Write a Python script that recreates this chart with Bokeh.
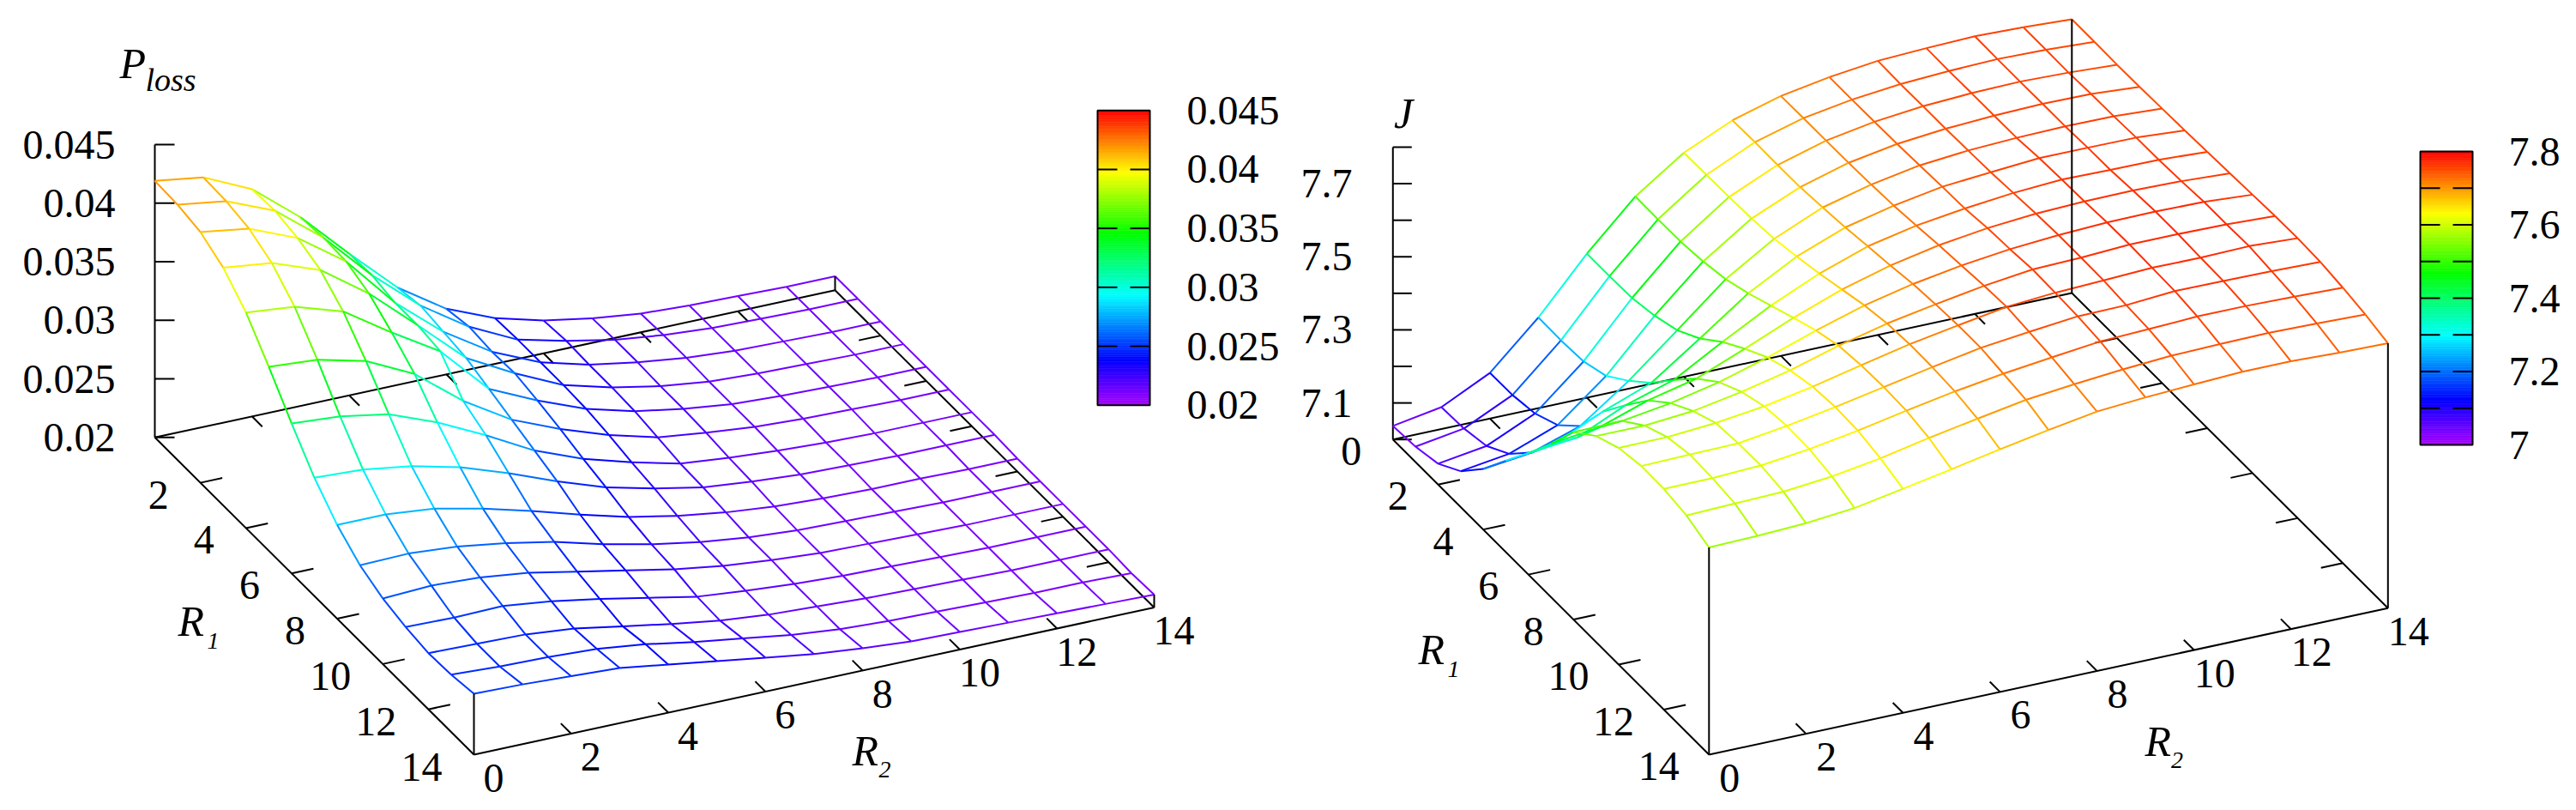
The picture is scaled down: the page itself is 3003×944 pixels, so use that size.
from bokeh.plotting import figure
from bokeh.layouts import row
from bokeh.embed import file_html
from bokeh.resources import INLINE
from bokeh.core.properties import value

R_VALUES = list(range(15))

# ---- P_loss surface: one list per R1, along R2 = 0..14
PLOSS_R1_00 = [.0419,.0413,.0394,.0361,.0321,.0283,.0256,.0239,.0228,.0221,.0216,.0214,.0213,.0212,.0212]
PLOSS_R1_01 = [.0418,.0412,.0395,.0363,.0322,.0287,.0260,.0240,.0230,.0222,.0217,.0214,.0213,.0212,.0212]
PLOSS_R1_02 = [.0414,.0408,.0391,.0362,.0318,.0284,.0258,.0240,.0229,.0222,.0217,.0214,.0213,.0212,.0212]
PLOSS_R1_03 = [.0403,.0398,.0383,.0354,.0318,.0281,.0259,.0240,.0229,.0221,.0216,.0214,.0213,.0212,.0212]
PLOSS_R1_04 = [.0384,.0380,.0367,.0340,.0315,.0274,.0255,.0239,.0228,.0221,.0216,.0214,.0213,.0212,.0212]
PLOSS_R1_05 = [.0357,.0354,.0344,.0324,.0292,.0267,.0250,.0236,.0225,.0220,.0216,.0214,.0213,.0212,.0212]
PLOSS_R1_06 = [.0328,.0325,.0318,.0302,.0282,.0260,.0244,.0232,.0222,.0218,.0215,.0213,.0212,.0212,.0212]
PLOSS_R1_07 = [.0301,.0299,.0293,.0283,.0269,.0253,.0239,.0229,.0221,.0217,.0214,.0213,.0212,.0212,.0212]
PLOSS_R1_08 = [.0280,.0280,.0276,.0267,.0256,.0244,.0233,.0225,.0219,.0215,.0213,.0212,.0212,.0211,.0211]
PLOSS_R1_09 = [.0265,.0266,.0263,.0257,.0249,.0238,.0229,.0222,.0217,.0214,.0213,.0212,.0211,.0211,.0211]
PLOSS_R1_10 = [.0256,.0258,.0256,.0251,.0243,.0235,.0227,.0221,.0217,.0214,.0213,.0212,.0211,.0211,.0211]
PLOSS_R1_11 = [.0251,.0250,.0251,.0246,.0239,.0231,.0223,.0219,.0216,.0214,.0213,.0212,.0211,.0211,.0211]
PLOSS_R1_12 = [.0248,.0247,.0246,.0242,.0235,.0228,.0222,.0218,.0216,.0214,.0213,.0212,.0211,.0211,.0211]
PLOSS_R1_13 = [.0249,.0247,.0246,.0244,.0239,.0232,.0226,.0220,.0216,.0214,.0213,.0212,.0211,.0211,.0210]
PLOSS_R1_14 = [.0252,.0251,.0249,.0247,.0241,.0235,.0229,.0223,.0219,.0216,.0215,.0214,.0213,.0212,.0211]
PLOSS_ROWS = [PLOSS_R1_00, PLOSS_R1_01, PLOSS_R1_02, PLOSS_R1_03, PLOSS_R1_04, PLOSS_R1_05, PLOSS_R1_06, PLOSS_R1_07,
              PLOSS_R1_08, PLOSS_R1_09, PLOSS_R1_10, PLOSS_R1_11, PLOSS_R1_12, PLOSS_R1_13, PLOSS_R1_14]

# ---- J surface: one list per R2, along R1 = 0..14
J_R2_00 = [7.037,7.042,7.057,7.098,7.166,7.250,7.332,7.419,7.513,7.564,7.593,7.605,7.604,7.593,7.567]
J_R2_01 = [7.060,7.063,7.077,7.117,7.182,7.267,7.346,7.436,7.515,7.564,7.594,7.608,7.605,7.597,7.570]
J_R2_02 = [7.125,7.126,7.137,7.167,7.226,7.327,7.406,7.481,7.535,7.575,7.604,7.610,7.611,7.601,7.576]
J_R2_03 = [7.248,7.247,7.251,7.273,7.321,7.377,7.447,7.512,7.564,7.599,7.621,7.629,7.627,7.614,7.589]
J_R2_04 = [7.394,7.394,7.396,7.409,7.431,7.470,7.522,7.565,7.603,7.629,7.646,7.652,7.649,7.635,7.613]
J_R2_05 = [7.522,7.521,7.522,7.529,7.542,7.565,7.593,7.621,7.648,7.668,7.676,7.678,7.675,7.662,7.638]
J_R2_06 = [7.613,7.614,7.615,7.618,7.624,7.637,7.652,7.670,7.688,7.700,7.705,7.704,7.699,7.686,7.664]
J_R2_07 = [7.673,7.675,7.674,7.675,7.681,7.688,7.698,7.707,7.718,7.724,7.728,7.728,7.719,7.709,7.688]
J_R2_08 = [7.711,7.712,7.712,7.713,7.715,7.719,7.726,7.734,7.740,7.746,7.750,7.743,7.735,7.723,7.710]
J_R2_09 = [7.734,7.734,7.735,7.736,7.739,7.742,7.744,7.752,7.756,7.762,7.760,7.757,7.750,7.735,7.720]
J_R2_10 = [7.750,7.748,7.749,7.749,7.751,7.753,7.758,7.763,7.766,7.766,7.765,7.759,7.755,7.744,7.727]
J_R2_11 = [7.756,7.755,7.756,7.756,7.757,7.763,7.766,7.768,7.772,7.773,7.771,7.769,7.761,7.747,7.733]
J_R2_12 = [7.760,7.759,7.759,7.760,7.760,7.763,7.764,7.769,7.773,7.773,7.770,7.768,7.761,7.749,7.733]
J_R2_13 = [7.756,7.756,7.755,7.758,7.759,7.762,7.763,7.766,7.771,7.771,7.773,7.766,7.758,7.746,7.728]
J_R2_14 = [7.749,7.749,7.748,7.749,7.751,7.753,7.756,7.759,7.762,7.765,7.766,7.763,7.754,7.742,7.725]
J_COLS = [J_R2_00, J_R2_01, J_R2_02, J_R2_03, J_R2_04, J_R2_05, J_R2_06, J_R2_07,
          J_R2_08, J_R2_09, J_R2_10, J_R2_11, J_R2_12, J_R2_13, J_R2_14]
J_ROWS = [[col[i] for col in J_COLS] for i in range(15)]

R1_TICKS = [2, 4, 6, 8, 10, 12]
R2_TICKS = [2, 4, 6, 8, 10, 12]
AXIS_LABELS = ["0", "2", "4", "6", "8", "10", "12", "14"]
PLOSS_Z_TICKS = [0.02, 0.025, 0.03, 0.035, 0.04, 0.045]
PLOSS_Z_LABELS = ["0.02", "0.025", "0.03", "0.035", "0.04", "0.045"]
J_Z_TICKS = [7.0, 7.1, 7.2, 7.3, 7.4, 7.5, 7.6, 7.7, 7.8]
J_Z_LABELS = ["", "7.1", "", "7.3", "", "7.5", "", "7.7", ""]
J_CB_LABELS = ["7", "", "7.2", "", "7.4", "", "7.6", "", "7.8"]

# palette: fraction, colour
PAL_F = [0.0, 0.155, 0.374, 0.583, 0.79, 1.0]
PAL_C = [(170, 0, 255), (0, 0, 255), (0, 255, 255), (0, 255, 0), (255, 255, 0), (255, 0, 0)]

FONT = "Liberation Serif"
TICK_PT = "48px"
LW = 2.0


def pal(f):
    f = max(0.0, min(1.0, f))
    for k in range(len(PAL_F) - 1):
        if f <= PAL_F[k + 1]:
            u = (f - PAL_F[k]) / (PAL_F[k + 1] - PAL_F[k])
            c = [round(a + (b - a) * u) for a, b in zip(PAL_C[k], PAL_C[k + 1])]
            return "#%02x%02x%02x" % tuple(c)
    return "#ff0000"


def make_panel(cfg):
    x0, y0 = cfg["A"]
    bx, by = cfg["B"]
    cx, cy = cfg["C"]
    di = ((bx - x0) / 14, (by - y0) / 14)
    dj = ((cx - bx) / 14, (cy - by) / 14)
    zmin, zmax = cfg["zmin"], cfg["zmax"]
    zs = (y0 - cfg["ztop"]) / (zmax - zmin)

    def proj(i, j, z=None):
        z = zmin if z is None else z
        return x0 + i * di[0] + j * dj[0], y0 + i * di[1] + j * dj[1] - (z - zmin) * zs

    p = figure(width=cfg["w"], height=936, x_range=cfg["xr"], y_range=(936, 0),
               output_backend="svg", toolbar_location=None,
               x_axis_type=None, y_axis_type=None, min_border=0, outline_line_color=None)

    def segs(lst, color="black", lw=LW):
        p.segment([s[0][0] for s in lst], [s[0][1] for s in lst], [s[1][0] for s in lst], [s[1][1] for s in lst],
                  line_color=color, line_width=lw)

    def txt(x, y, s, size=TICK_PT, align="left", style="normal", center=True):
        yo = 0 if center else -0.338 * float(size[:-2])
        p.text([x], [y], text=[s], text_font=value(FONT), text_font_size=size, text_align=align,
               text_baseline="alphabetic", text_font_style=style, text_color="black", y_offset=yo)

    # base box + ticks
    A, B, C, D = proj(0, 0), proj(14, 0), proj(14, 14), proj(0, 14)
    box = [(A, B), (B, C), (C, D), (D, A)]
    tl = 0.45
    for v in R1_TICKS:
        box.append((proj(v, 0), proj(v, tl)))
        box.append((proj(v, 14), proj(v, 14 - tl)))
    for v in R2_TICKS:
        box.append((proj(14, v), proj(14 - tl, v)))
        box.append((proj(0, v), proj(tl, v)))
    segs(box)

    # z axis
    zaxis = [(proj(0, 0), proj(0, 0, zmax))]
    for z in cfg["zticks"]:
        px, py = proj(0, 0, z)
        zaxis.append(((px, py), (px + cfg["ztl"], py)))
    segs(zaxis)

    # surface
    Z = cfg["Z"]
    xs0, ys0, xs1, ys1, cols = [], [], [], [], []
    for i in R_VALUES:
        for j in R_VALUES:
            if j < 14:
                a, b = proj(i, j, Z[i][j]), proj(i, j + 1, Z[i][j + 1])
                xs0.append(a[0]); ys0.append(a[1]); xs1.append(b[0]); ys1.append(b[1])
                cols.append(pal(((Z[i][j] + Z[i][j + 1]) / 2 - zmin) / (zmax - zmin)))
            if i < 14:
                a, b = proj(i, j, Z[i][j]), proj(i + 1, j, Z[i + 1][j])
                xs0.append(a[0]); ys0.append(a[1]); xs1.append(b[0]); ys1.append(b[1])
                cols.append(pal(((Z[i][j] + Z[i + 1][j]) / 2 - zmin) / (zmax - zmin)))
    p.segment(xs0, ys0, xs1, ys1, line_color=cols, line_width=LW)

    # corner verticals
    segs([(proj(14, 0), proj(14, 0, Z[14][0])), (proj(14, 14), proj(14, 14, Z[14][14])),
          (proj(0, 14), proj(0, 14, Z[0][14]))])

    # tick labels
    for z, s in zip(cfg["zticks"], cfg["zlabels"]):
        if s:
            px, py = proj(0, 0, z)
            txt(cfg["zlabel_x"], py, s, align="right")
    for k, s in enumerate(AXIS_LABELS):
        v = 2 * k
        if s == "0" and not cfg["r1_zero"]:
            pass
        else:
            px, py = proj(v, 0)
            if s == "0":
                txt(px + cfg["r0_off"][0], py + cfg["r0_off"][1], s, align="right")
            else:
                txt(px + cfg["r1_off"][0], py + cfg["r1_off"][1], s, align="right")
        px, py = proj(14, v)
        txt(px + cfg["r2_off"][0], py + cfg["r2_off"][1], s, align="center")

    # axis titles
    for s, x, y, size in cfg["titles"]:
        txt(x, y, s, size=size, style="italic", center=False)

    # colour bar
    bl, br, bt, bb = cfg["bar"]
    n = 128
    lv = [bb + (bt - bb) * k / n for k in range(n + 1)]
    cc = [pal((k + .5) / n) for k in range(n)]
    p.quad(left=[bl] * n, right=[br] * n, bottom=lv[:-1], top=lv[1:], fill_color=cc, line_color=cc, line_width=0.6)
    marks = []
    for z, s in zip(cfg["zticks"], cfg["cblabels"]):
        yy = bb + (bt - bb) * (z - zmin) / (zmax - zmin)
        if z not in (zmin, zmax):
            marks.append(((bl, yy), (bl + 23, yy)))
            marks.append(((br - 23, yy), (br, yy)))
        if s:
            txt(cfg["cblabel_x"], yy, s)
    segs(marks)
    p.quad(left=[bl], right=[br], bottom=[bb], top=[bt], fill_color=None, line_color="black", line_width=2)
    return p


left = make_panel(dict(
    A=(180.0, 509.3), B=(552.0, 879.0), C=(1345.0, 707.5), zmin=0.02, zmax=0.045, ztop=168.0, ztl=23,
    Z=PLOSS_ROWS, zticks=PLOSS_Z_TICKS, zlabels=PLOSS_Z_LABELS, cblabels=PLOSS_Z_LABELS,
    zlabel_x=134, r1_zero=False, r0_off=(0, 0), r1_off=(-37, 14), r2_off=(23, 27),
    titles=[("P", 139, 90.7, "50px"), ("loss", 169, 105, "38px"), ("R", 207, 740.7, "50px"), ("1", 241, 755.7, "28px"),
            ("R", 993, 891, "50px"), ("2", 1024, 906, "28px")],
    bar=(1279, 1340, 128.3, 471.7), cblabel_x=1383, w=1500, xr=(0, 1500)))

right = make_panel(dict(
    A=(1623.3, 511.7), B=(1991.8, 879.0), C=(2783.3, 708.3), zmin=7.0, zmax=7.8, ztop=171.0, ztl=22,
    Z=J_ROWS, zticks=J_Z_TICKS, zlabels=J_Z_LABELS, cblabels=J_CB_LABELS,
    zlabel_x=1576, r1_zero=True, r0_off=(-36.5, 13.5), r1_off=(-34.6, 13.8), r2_off=(24, 27),
    titles=[("J", 1624.6, 148.7, "50px"), ("R", 1653, 773.6, "50px"), ("1", 1687, 788.7, "28px"),
            ("R", 2500, 880, "50px"), ("2", 2530.5, 895, "28px")],
    bar=(2821, 2882, 176, 518), cblabel_x=2924, w=1487, xr=(1500, 2987)))

page = row(left, right, spacing=0)
open("out.html", "w").write(file_html(page, INLINE))
